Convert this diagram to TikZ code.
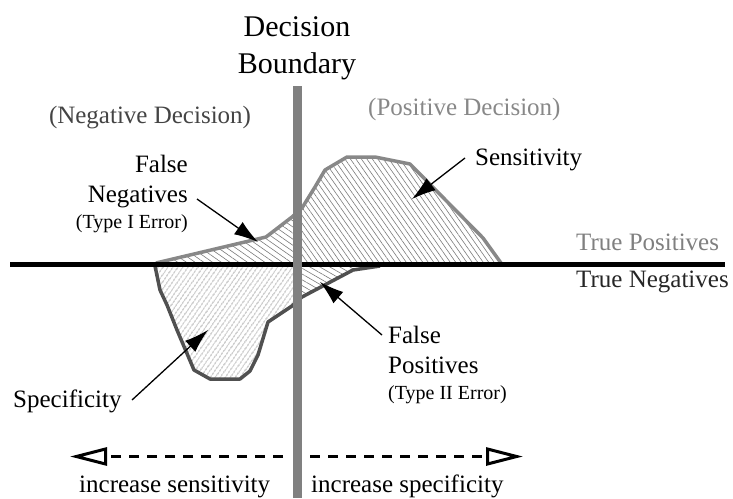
\documentclass[tikz,border=0pt]{standalone}
\usepackage{fontspec}
\setmainfont{Liberation Serif}
\usetikzlibrary{arrows.meta,patterns.meta}
\definecolor{boundgray}{HTML}{808080}
\definecolor{posgray}{HTML}{888888}
\definecolor{neggray}{HTML}{505050}
\definecolor{negtext}{HTML}{444444}
\definecolor{hatch}{HTML}{7A7A7A}
\tikzset{
  body/.style={font=\fontsize{25}{25}\selectfont, inner sep=0pt},
  small/.style={font=\fontsize{20}{20}\selectfont, inner sep=0pt},
  big/.style={font=\fontsize{30}{30}\selectfont, inner sep=0pt},
  lab/.style={line width=1.3pt, -{Latex[length=24pt,width=15pt]}},
  dir/.style={line width=3pt, dash pattern=on 10pt off 8pt, -{Triangle[open,length=37pt,width=18pt,line width=3pt]}},
}
\newcommand{\upperline}{(156,263) -- (266,237) -- (292,217) -- (302,208) -- (315,187) -- (325,170) -- (347,157) -- (375,157) -- (410,164) -- (483,238) -- (501,263)}
\newcommand{\lowerline}{(155,266) -- (160,290) -- (167,305) -- (177,330) -- (194,370) -- (210,379) -- (240,379) -- (250,371) -- (258,355) -- (268,322) -- (292,306) -- (302,297) -- (353,270) -- (380,266)}
\begin{document}
\begin{tikzpicture}[x=1pt,y=-1pt]
\useasboundingbox (0,0) rectangle (733,498);
% hatch fills
\begin{scope}
  \clip (0,0) rectangle (297,264);
  \fill[pattern={Lines[angle=-35,distance=5pt,line width=0.6pt]}, pattern color=hatch] \upperline -- cycle;
\end{scope}
\begin{scope}
  \clip (297,0) rectangle (733,264);
  \fill[pattern={Lines[angle=-55,distance=4.5pt,line width=0.6pt]}, pattern color=hatch] \upperline -- cycle;
\end{scope}
\begin{scope}
  \clip (0,264) rectangle (297,498);
  \fill[pattern={Lines[angle=55,distance=4pt,line width=0.6pt]}, pattern color=hatch] \lowerline -- cycle;
\end{scope}
\begin{scope}
  \clip (297,264) rectangle (733,498);
  \fill[pattern={Lines[angle=-30,distance=5pt,line width=0.6pt]}, pattern color=hatch] \lowerline -- cycle;
\end{scope}
% outlines
\draw[posgray, line width=3.5pt, line join=round] \upperline;
\draw[neggray, line width=3.5pt, line join=round] \lowerline;
% axes
\coordinate (hl) at (10,264.5);
\coordinate (hr) at (725,264.5);
\draw[black, line width=5.5pt] (hl) -- (hr);
\coordinate (vt) at (297,86);
\coordinate (vb) at (297,498);
\draw[boundgray, line width=9pt] (vt) -- (vb);
% titles
\node[big, anchor=base] (dec) at (297,36) {Decision};
\node[big, anchor=base] (bnd) at (297,73) {Boundary};
\node[body, anchor=base, text=negtext] (negdec) at (150,123) {(Negative Decision)};
\node[body, anchor=base west, text=posgray] (posdec) at (368,115) {(Positive Decision)};
\node[body, anchor=base west, text=boundgray] (tp) at (576,250) {True Positives};
\node[body, anchor=base west, text=black!85] (tn) at (576,287) {True Negatives};
% false negatives
\node[body, anchor=base east] (fn1) at (188,172) {False};
\node[body, anchor=base east] (fn2) at (188,202) {Negatives};
\node[small, anchor=base east] (fn3) at (188,228) {(Type I Error)};
% false positives
\node[body, anchor=base west] (fp1) at (388,343) {False};
\node[body, anchor=base west] (fp2) at (388,373) {Positives};
\node[small, anchor=base west] (fp3) at (388,399) {(Type II Error)};
% sensitivity / specificity
\node[body, anchor=base west] (sens) at (475,165) {Sensitivity};
\node[body, anchor=base west] (spec) at (13,407) {Specificity};
% label arrows
\coordinate (fnS) at (197,199);
\coordinate (fnT) at (258,242);
\draw[lab] (fnS) -- (fnT);
\coordinate (seS) at (465,158);
\coordinate (seT) at (412,199);
\draw[lab] (seS) -- (seT);
\coordinate (fpS) at (382,335);
\coordinate (fpT) at (320,282);
\draw[lab] (fpS) -- (fpT);
\coordinate (spS) at (132,400);
\coordinate (spT) at (208,330);
\draw[lab] (spS) -- (spT);
% direction arrows
\coordinate (lS) at (283,456.5);
\coordinate (lT) at (70,456.5);
\coordinate (rS) at (310,456.5);
\coordinate (rT) at (523,456.5);
\draw[dir] (lS) -- (lT);
\draw[dir] (rS) -- (rT);
\node[body, anchor=base west] (incsens) at (79,492) {increase sensitivity};
\node[body, anchor=base west] (incspec) at (311,492) {increase specificity};
\end{tikzpicture}
\end{document}
